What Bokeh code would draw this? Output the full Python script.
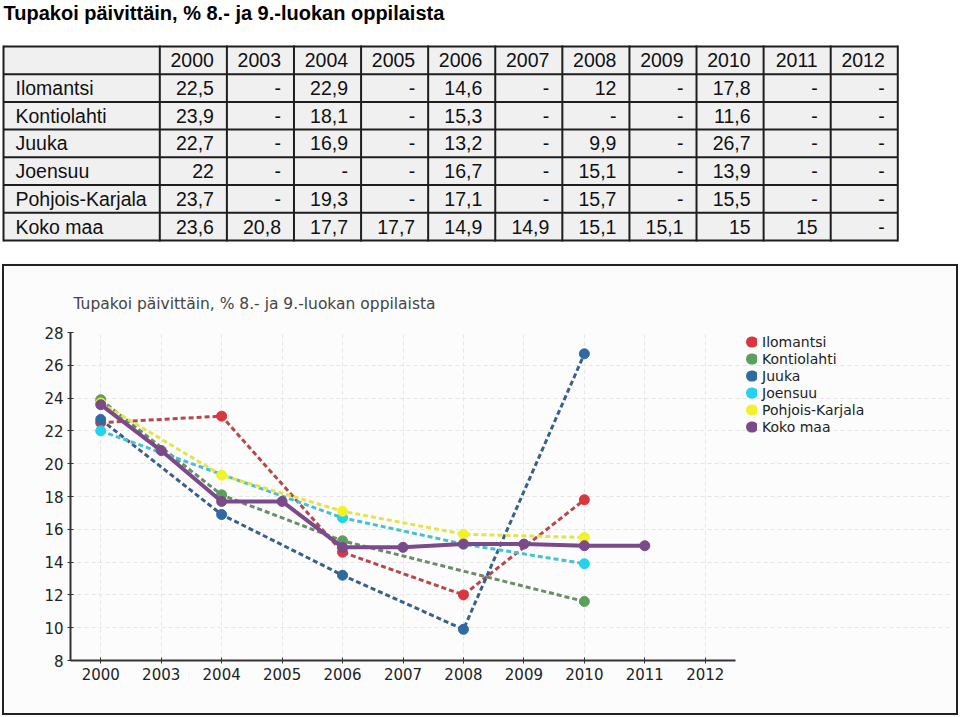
from bokeh.plotting import figure
from bokeh.layouts import column
from bokeh.models import (Range1d, Legend, LegendItem, FixedTicker, Title,
                          InlineStyleSheet)
from bokeh.core.properties import value
from bokeh.embed import file_html
from bokeh.resources import INLINE

# ---------------- data ----------------
title_text = "Tupakoi päivittäin, % 8.- ja 9.-luokan oppilaista"
years = ["2000", "2003", "2004", "2005", "2006", "2007", "2008", "2009", "2010", "2011", "2012"]
series_names = ["Ilomantsi", "Kontiolahti", "Juuka", "Joensuu", "Pohjois-Karjala", "Koko maa"]
ilomantsi = [22.5, None, 22.9, None, 14.6, None, 12, None, 17.8, None, None]
kontiolahti = [23.9, None, 18.1, None, 15.3, None, None, None, 11.6, None, None]
juuka = [22.7, None, 16.9, None, 13.2, None, 9.9, None, 26.7, None, None]
joensuu = [22, None, None, None, 16.7, None, 15.1, None, 13.9, None, None]
pohjois_karjala = [23.7, None, 19.3, None, 17.1, None, 15.7, None, 15.5, None, None]
koko_maa = [23.6, 20.8, 17.7, 17.7, 14.9, 14.9, 15.1, 15.1, 15, 15, None]
y_ticks = [8, 10, 12, 14, 16, 18, 20, 22, 24, 26, 28]

series_values = [ilomantsi, kontiolahti, juuka, joensuu, pohjois_karjala, koko_maa]
dot_colors = ["#d9363e", "#5c9e5c", "#2f6aa0", "#22d3ee", "#f2f22a", "#7a4a8a"]
line_colors = ["#b84848", "#6a8c68", "#37608a", "#48bfd4", "#e4e44a", "#7a4a8a"]


def fmt(v):
    if v is None:
        return "-"
    if float(v).is_integer():
        return str(int(v))
    return str(v).replace(".", ",")


def no_align(fig):
    try:
        fig.frame_align = False
    except Exception:
        pass


# ---------------- table figure ----------------
W = 960
TH = 262
tf = figure(width=W, height=TH, x_range=Range1d(0, W), y_range=Range1d(TH, 0),
            output_backend="svg", toolbar_location=None, min_border=0,
            x_axis_location=None, y_axis_location=None)
no_align(tf)
tf.grid.visible = False
tf.outline_line_color = None
tf.background_fill_color = "white"
tf.border_fill_color = "white"

left_edge = 3
c0 = 159.3
cw = 67.09
top = 46
rh = 27.7
nrows = len(series_names) + 1
right_edge = c0 + cw * len(years)
bottom = top + rh * nrows

tf.quad(left=[left_edge], right=[right_edge], top=[top], bottom=[bottom],
        fill_color="#f0f0f0", line_color=None)

vx = [left_edge] + [c0 + cw * j for j in range(len(years) + 1)]
tf.segment(x0=vx, x1=vx, y0=[top - 1] * len(vx), y1=[bottom + 1] * len(vx),
           line_color="#1e1e1e", line_width=2)
hy = [top + rh * i for i in range(nrows + 1)]
tf.segment(x0=[left_edge] * len(hy), x1=[right_edge] * len(hy), y0=hy, y1=hy,
           line_color="#1e1e1e", line_width=2)

font_tab = value("Liberation Sans")
fs_tab = "19.5px"
# header years
tf.text(x=[c0 + cw * (j + 1) - 13 for j in range(len(years))],
        y=[top + rh * 0.5] * len(years), text=years,
        text_font=font_tab, text_font_size=fs_tab, text_align="right",
        text_baseline="alphabetic", text_color="#111")
# row labels
tf.text(x=[15] * len(series_names),
        y=[top + rh * (i + 1.5) for i in range(len(series_names))],
        text=series_names, text_font=font_tab, text_font_size=fs_tab,
        text_align="left", text_baseline="alphabetic", text_color="#111")
# values
cx, cy, ct = [], [], []
for i, vals in enumerate(series_values):
    for j, v in enumerate(vals):
        cx.append(c0 + cw * (j + 1) - 13)
        cy.append(top + rh * (i + 1.5))
        ct.append(fmt(v))
tf.text(x=cx, y=cy, text=ct, text_font=font_tab, text_font_size=fs_tab,
        text_align="right", text_baseline="alphabetic", text_color="#111")
# page title
tf.text(x=[3], y=[12], text=[title_text], text_font=font_tab,
        text_font_size="20px", text_font_style="bold", text_align="left",
        text_baseline="alphabetic", text_color="#000")

# ---------------- chart figure ----------------
CH = 717 - TH
frame_left, frame_right = 70, 950        # page px
axis_right = 735                          # where the year axis ends
slot = (axis_right - frame_left) / len(years)
x_end = (frame_right - frame_left) / slot
x_pos = {y: i + 0.5 for i, y in enumerate(years)}

p = figure(width=W, height=CH, x_range=Range1d(0, x_end),
           y_range=Range1d(8, 28), output_backend="svg", toolbar_location=None,
           min_border_left=frame_left, min_border_right=W - frame_right,
           min_border_top=70, min_border_bottom=CH - 398,
           background_fill_color="#fcfcfc", border_fill_color="#fcfcfc")
no_align(p)
p.stylesheets = [InlineStyleSheet(css=(
    ":host::after { content: ''; position: absolute; left: 2px; top: 2px; "
    "right: 2px; bottom: 2px; border: 2px solid #222; z-index: 100; "
    "pointer-events: none; }"))]
p.title = Title(text=title_text, align="left", offset=3, standoff=40,
                text_font="DejaVu Sans", text_font_size="15.5px",
                text_font_style="normal", text_color="#444")
p.outline_line_color = None

for ax in (p.xaxis[0], p.yaxis[0]):
    ax.axis_line_color = "#333"
    ax.axis_line_width = 2
    ax.major_tick_in = 3
    ax.major_tick_out = 3
    ax.major_tick_line_color = "#333"
    ax.major_tick_line_width = 1
    ax.minor_tick_line_color = None
    ax.major_label_text_font = "DejaVu Sans"
    ax.major_label_text_font_size = "15px"
    ax.major_label_text_color = "#222"
    ax.major_label_standoff = 4
p.yaxis[0].ticker = FixedTicker(ticks=y_ticks, minor_ticks=[])
p.xaxis[0].ticker = FixedTicker(ticks=[x_pos[y] for y in years], minor_ticks=[])
p.xaxis[0].major_label_overrides = {x_pos[y]: y for y in years}
p.xaxis[0].bounds = (0, len(years))

for g in (p.xgrid[0], p.ygrid[0]):
    g.grid_line_color = "#e6e6e6"
    g.grid_line_dash = "4 3"
    g.grid_line_width = 1
p.xgrid[0].ticker = p.xaxis[0].ticker
p.ygrid[0].bounds = (0, len(years))

legend_items = []
for name, vals, dc, lc in zip(series_names, series_values, dot_colors, line_colors):
    xs = [x_pos[years[j]] for j, v in enumerate(vals) if v is not None]
    ys = [v for v in vals if v is not None]
    if name == "Koko maa":
        p.line(xs, ys, line_color=lc, line_width=4)
    else:
        p.line(xs, ys, line_color=lc, line_width=3, line_dash="5 3")
    p.scatter(xs, ys, size=10, fill_color=dc, line_color=dc)
    # legend-only renderer (single point, draws nothing in the plot): a short,
    # thick, round-capped dash reads as a dot in the legend
    dot = p.line(x=[xs[0]], y=[ys[0]], line_color=dc, line_width=11,
                 line_cap="round", line_dash="1 100", line_dash_offset=-16)
    legend_items.append(LegendItem(label=name, renderers=[dot]))

legend_h = 17 * len(series_names)
legend = Legend(items=legend_items,
                location=(axis_right - frame_left, 660 - 333 - legend_h),
                glyph_width=22, glyph_height=17,
                label_height=17, spacing=0, label_standoff=5, padding=0, margin=0,
                border_line_color=None, background_fill_alpha=0,
                label_text_font="DejaVu Sans", label_text_font_size="14px",
                label_text_color="#222")
p.add_layout(legend)

layout = column(tf, p, spacing=0)
open("out.html", "w").write(file_html(layout, INLINE))
